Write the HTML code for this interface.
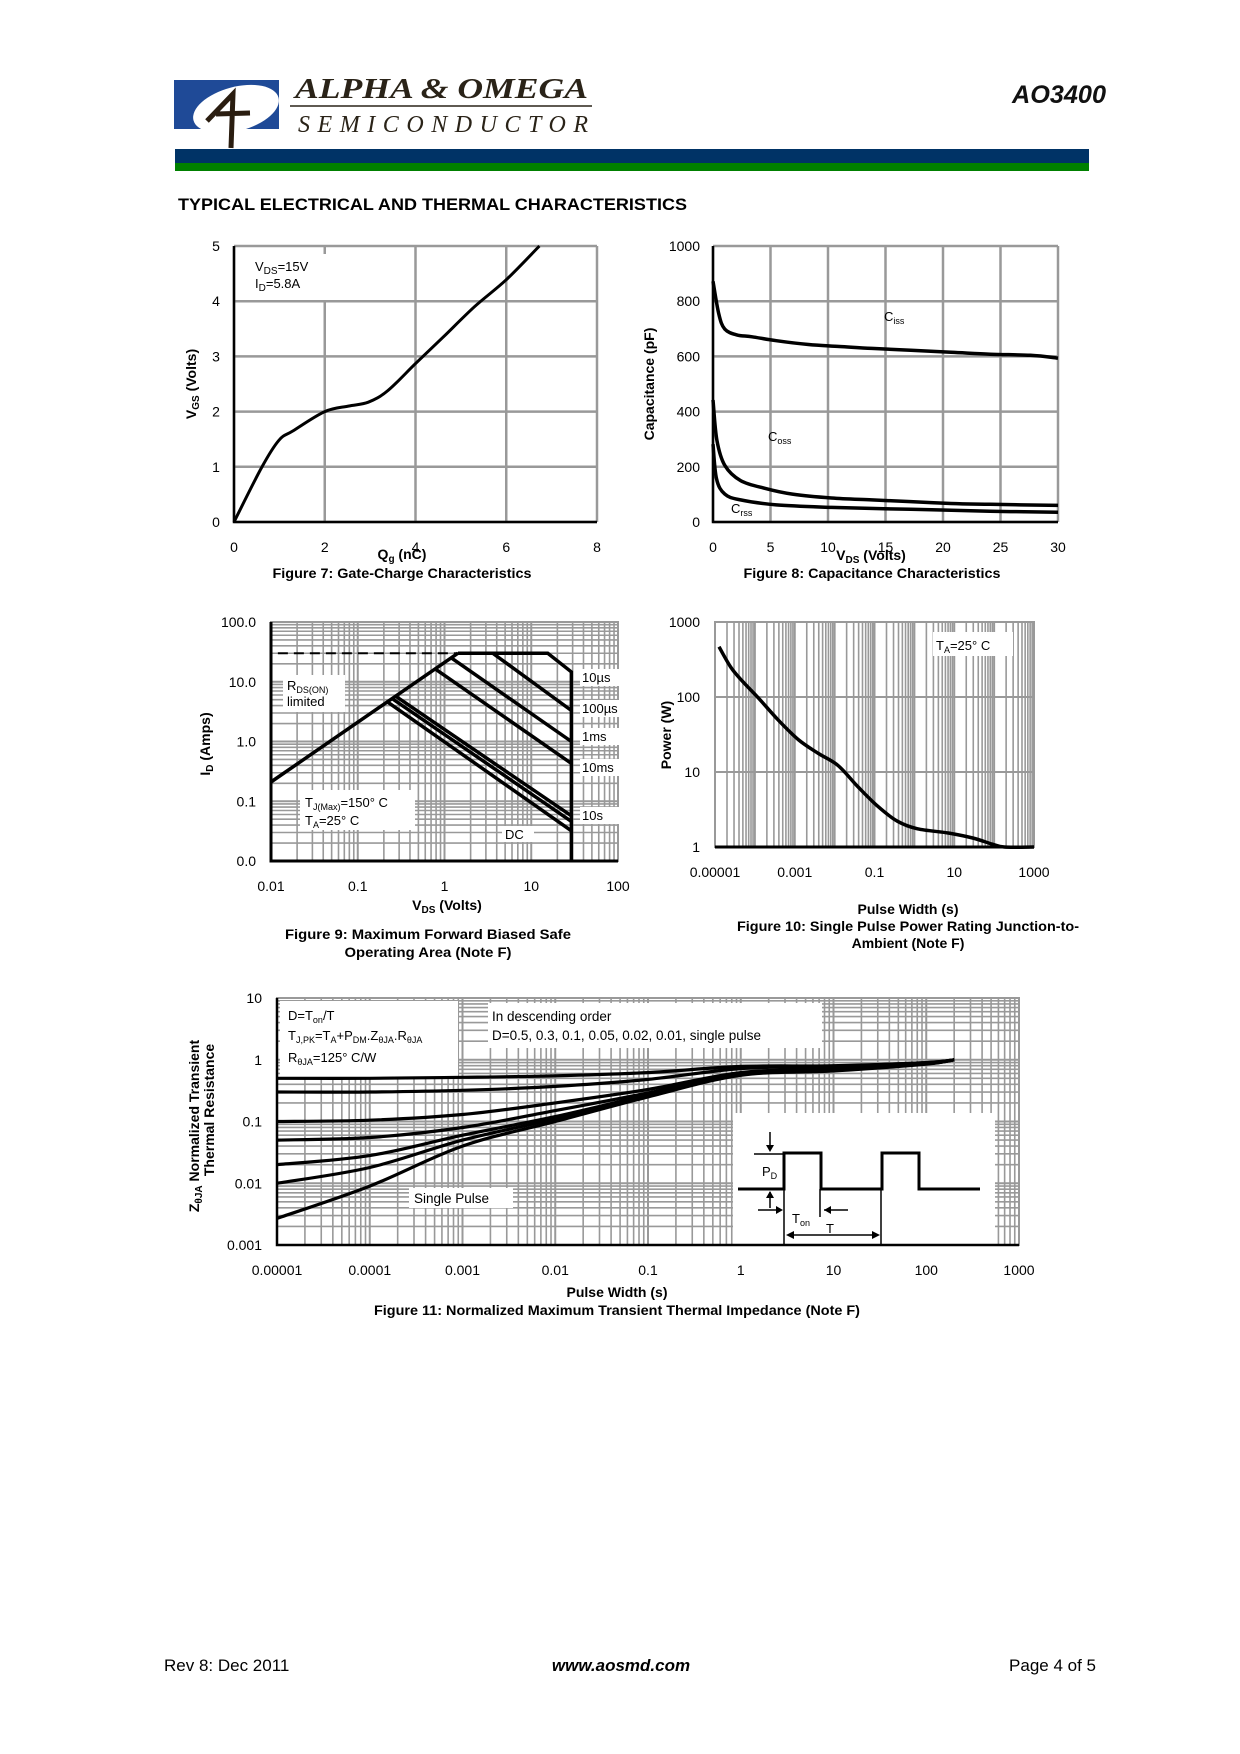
<!DOCTYPE html>
<html><head><meta charset="utf-8"><style>
html,body{margin:0;padding:0;background:#fff;}
svg{display:block;font-family:"Liberation Sans",Arial,sans-serif;}
</style></head>
<body>
<svg id="page" xmlns="http://www.w3.org/2000/svg" width="1240" height="1754" viewBox="0 0 1240 1754">
<rect x="0" y="0" width="1240" height="1754" fill="#fff"/>
<g>
  <rect x="174" y="80" width="105" height="49" fill="#1f4a97"/>
  <ellipse cx="236" cy="109" rx="44" ry="22" fill="#fff" transform="rotate(-15 236 109)"/>
  <path d="M207 121 L233 94 L231 148 M216 114 L250 113" stroke="#2a1d10" stroke-width="5" fill="none"/>
  <text x="295" y="98" font-family="Liberation Serif,serif" font-weight="bold" font-style="italic" font-size="29" fill="#2a2318" textLength="293" lengthAdjust="spacingAndGlyphs">ALPHA &amp; OMEGA</text>
  <line x1="290" y1="106" x2="592" y2="106" stroke="#2a2318" stroke-width="1.5"/>
  <text x="298" y="132" font-family="Liberation Serif,serif" font-style="italic" font-size="24" fill="#2a2318" textLength="290" lengthAdjust="spacing">SEMICONDUCTOR</text>
  <text x="1012" y="103" font-weight="bold" font-style="italic" font-size="25" fill="#111" textLength="94" lengthAdjust="spacingAndGlyphs">AO3400</text>
  <rect x="175" y="149" width="914" height="14" fill="#003366"/>
  <rect x="175" y="163" width="914" height="8" fill="#008000"/>
</g>
<text x="178" y="210" font-weight="bold" font-size="16.5" fill="#000" textLength="509" lengthAdjust="spacingAndGlyphs">TYPICAL ELECTRICAL AND THERMAL CHARACTERISTICS</text>
<g id="charts"></g>
<g>
  <text x="164" y="1671" font-size="17">Rev 8: Dec 2011</text>
  <text x="621" y="1671" font-size="17" font-weight="bold" font-style="italic" text-anchor="middle">www.aosmd.com</text>
  <text x="1096" y="1671" font-size="17" text-anchor="end">Page 4 of 5</text>
</g>
</svg>
<script>
// ---- Figure 7 data ----
const fig7Qg=[0,0.61,0.99,1.3,2.0,2.52,2.96,3.39,4.0,4.61,5.3,6.0,6.73];
const fig7Vgs=[0,0.99,1.48,1.65,2.0,2.1,2.17,2.38,2.87,3.35,3.9,4.39,5.0];
const fig7XTicks=[0,2,4,6,8];
const fig7YTicks=[0,1,2,3,4,5];
// ---- Figure 8 data ----
const fig8CissV=[0,0.5,1.03,2.07,3.4,5.5,8.3,11,13.8,17.2,20.7,24.1,27.6,30];
const fig8Ciss=[872,754,699,678,671,657,643,636,629,622,615,608,604,594];
const fig8CossV=[0,0.34,1.03,2.4,4.5,6.9,10.3,13.8,17.2,20.7,24.1,30];
const fig8Coss=[442,296,205,150,122,101,87,80,74,67,64,60];
const fig8CrssV=[0,0.3,1.03,2.4,5.5,10.3,17.2,24.1,30];
const fig8Crss=[282,157,101,80,62,53,46,39,35];
const fig8XTicks=[0,5,10,15,20,25,30];
const fig8YTicks=[0,200,400,600,800,1000];
// ---- Figure 9 data ----
const fig9XTicks=[0.01,0.1,1,10,100];
const fig9XTickLabels=["0.01","0.1","1","10","100"];
const fig9YTicks=[0.01,0.1,1,10,100];
const fig9YTickLabels=["0.0","0.1","1.0","10.0","100.0"];
const fig9Names=["10us","100us","1ms","10ms","10s","dc"];
const fig9V0=[3.6,1.2,0.8,0.28,0.25,0.22];
const fig9I0=[30,25,16,5.6,5.2,4.6];
const fig9V1=[29,29,29,29,29,29];
const fig9I1=[3.3,1.0,0.43,0.057,0.046,0.032];
const fig9RdsV=[0.01,1.43];
const fig9RdsI=[0.21,30];
const fig9LimitV=[1.43,15.5,29,29];
const fig9LimitI=[30,30,14.6,0.01];
// ---- Figure 10 data ----
const fig10T=[1.26e-5,2.5e-5,5e-5,1.25e-4,3.9e-4,1.23e-3,3.9e-3,0.012,0.038,0.12,0.38,1.2,7.4,29,91,180,1000];
const fig10P=[467,248,160,96,49,27,17.7,12.3,6.4,3.5,2.2,1.75,1.53,1.32,1.09,1.0,1.0];
const fig10XTicks=[1e-5,1e-3,0.1,10,1000];
const fig10XTickLabels=["0.00001","0.001","0.1","10","1000"];
const fig10YTicks=[1,10,100,1000];
const fig10YTickLabels=["1","10","100","1000"];
// ---- Figure 11 data ----
const fig11T=[1e-5,1e-4,1e-3,1e-2,0.1,1,10,100,200];
const fig11D05=[0.5,0.5,0.52,0.55,0.62,0.78,0.8,0.9,1.0];
const fig11D03=[0.3,0.3,0.32,0.37,0.48,0.72,0.78,0.9,1.0];
const fig11D01=[0.1,0.105,0.13,0.2,0.33,0.62,0.72,0.88,1.0];
const fig11D005=[0.05,0.055,0.08,0.15,0.29,0.6,0.7,0.87,1.0];
const fig11D002=[0.02,0.028,0.06,0.12,0.27,0.58,0.68,0.86,1.0];
const fig11D001=[0.01,0.018,0.05,0.11,0.26,0.57,0.67,0.86,1.0];
const fig11Single=[0.0027,0.009,0.04,0.1,0.25,0.56,0.66,0.85,1.0];
const fig11XTicks=[1e-5,1e-4,1e-3,1e-2,0.1,1,10,100,1000];
const fig11XTickLabels=["0.00001","0.0001","0.001","0.01","0.1","1","10","100","1000"];
const fig11YTicks=[0.001,0.01,0.1,1,10];
const fig11YTickLabels=["0.001","0.01","0.1","1","10"];

const NS='http://www.w3.org/2000/svg';
const root=document.getElementById('charts');
function mk(tag,parent){const e=document.createElementNS(NS,tag);(parent||root).appendChild(e);return e;}
function at(e,o){for(const k in o)e.setAttribute(k,o[k]);return e;}
function lin(d0,d1,p0,p1){return v=>p0+(v-d0)/(d1-d0)*(p1-p0);}
function lg(d0,d1,p0,p1){return v=>p0+(Math.log10(v)-Math.log10(d0))/(Math.log10(d1)-Math.log10(d0))*(p1-p0);}
function smooth(pts){let d='M'+pts[0][0].toFixed(1)+' '+pts[0][1].toFixed(1);
 for(let i=0;i<pts.length-1;i++){const p0=pts[i-1]||pts[i],p1=pts[i],p2=pts[i+1],p3=pts[i+2]||p2;
  const c1=[p1[0]+(p2[0]-p0[0])/6,p1[1]+(p2[1]-p0[1])/6],c2=[p2[0]-(p3[0]-p1[0])/6,p2[1]-(p3[1]-p1[1])/6];
  d+=' C'+c1[0].toFixed(1)+' '+c1[1].toFixed(1)+' '+c2[0].toFixed(1)+' '+c2[1].toFixed(1)+' '+p2[0].toFixed(1)+' '+p2[1].toFixed(1);}
 return d;}
function txt(g,x,y,s,opt){const t=mk('text',g);at(t,Object.assign({x:x,y:y,'font-size':14,fill:'#000'},opt||{}));t.innerHTML=s;return t;}
function whiteBox(g,x,y,w,h){const r=mk('rect',g);at(r,{x:x,y:y,width:w,height:h,fill:'#fff'});return r;}
function logGrid(g,xs,ys,L,R,T,B,xd,yd,col,minorX,minorY){
 for(let e=Math.log10(xd[0]);e<Math.log10(xd[1]);e++){for(let m=1;m<10;m++){if(m>1&&!minorX)continue;const x=xs(m*Math.pow(10,e));const l=mk('line',g);at(l,{x1:x,y1:T,x2:x,y2:B,stroke:col,'stroke-width':m==1?2:1.6});}}
 for(let e=Math.log10(yd[0]);e<Math.log10(yd[1]);e++){for(let m=1;m<10;m++){if(m>1&&!minorY)continue;const y=ys(m*Math.pow(10,e));const l=mk('line',g);at(l,{x1:L,y1:y,x2:R,y2:y,stroke:col,'stroke-width':m==1?2:1.6});}}
 const r=mk('rect',g);at(r,{x:L,y:T,width:R-L,height:B-T,fill:'none',stroke:col,'stroke-width':2});
}
function curve(g,xs,ys,X,Y,w){const p=mk('path',g);at(p,{d:smooth(X.map((v,i)=>[xs(v),ys(Y[i])])),fill:'none',stroke:'#000','stroke-width':w||3.5,'stroke-linejoin':'round'});return p;}

// ===== Figure 7 =====
(function(){
 const g=mk('g');
 
 
 const L=234,R=597,T=246,B=522;
 const xs=lin(0,8,L,R),ys=lin(0,5,B,T);
 fig7XTicks.forEach(v=>{const l=mk('line',g);at(l,{x1:xs(v),y1:T,x2:xs(v),y2:B,stroke:'#999','stroke-width':2.5});
  const t=txt(g,xs(v),552,v,{'text-anchor':'middle'});
  
  });
 fig7YTicks.forEach(v=>{const l=mk('line',g);at(l,{x1:L,y1:ys(v),x2:R,y2:ys(v),stroke:'#999','stroke-width':2.5});
  const t=txt(g,216,ys(v)+5,v,{'text-anchor':'middle'});
  
  });
 const ax=mk('path',g);at(ax,{d:`M${L} ${T} L${L} ${B} L${R} ${B}`,stroke:'#000','stroke-width':2.5,fill:'none'});
 const lb=whiteBox(g,242,254,100,46);
 
 
 txt(g,255,271,'V<tspan font-size="10" dy="3">DS</tspan><tspan dy="-3">=15V</tspan>',{'font-size':13});
 txt(g,255,288,'I<tspan font-size="10" dy="3">D</tspan><tspan dy="-3">=5.8A</tspan>',{'font-size':13});
 const c=curve(g,xs,ys,fig7Qg,fig7Vgs,3);
 
 
 const yl=txt(g,0,0,'V<tspan font-size="10" dy="3">GS</tspan><tspan dy="-3"> (Volts)</tspan>',{'font-weight':'bold','font-size':14,'text-anchor':'middle',transform:'translate(196 384) rotate(-90)'});
 
 
 const xl=txt(g,402,559,'Q<tspan font-size="10" dy="3">g</tspan><tspan dy="-3"> (nC)</tspan>',{'font-weight':'bold','text-anchor':'middle'});
 
 
 const cap=txt(g,402,578,'Figure 7: Gate-Charge Characteristics',{'font-weight':'bold','text-anchor':'middle',textLength:259,lengthAdjust:'spacingAndGlyphs'});
 
 
})();

// ===== Figure 8 =====
(function(){
 const g=mk('g');
 
 
 const L=713,R=1058,T=246,B=522;
 const xs=lin(0,30,L,R),ys=lin(0,1000,B,T);
 fig8XTicks.forEach(v=>{const l=mk('line',g);at(l,{x1:xs(v),y1:T,x2:xs(v),y2:B,stroke:'#999','stroke-width':2.5});
  const t=txt(g,xs(v),552,v,{'text-anchor':'middle'});
  
  });
 fig8YTicks.forEach(v=>{const l=mk('line',g);at(l,{x1:L,y1:ys(v),x2:R,y2:ys(v),stroke:'#999','stroke-width':2.5});
  const t=txt(g,700,ys(v)+5,v,{'text-anchor':'end'});
  
  });
 const ax=mk('path',g);at(ax,{d:`M${L} ${T} L${L} ${B} L${R} ${B}`,stroke:'#000','stroke-width':2.5,fill:'none'});
 const c1=curve(g,xs,ys,fig8CissV,fig8Ciss,3.5);
 
 
 const c2=curve(g,xs,ys,fig8CossV,fig8Coss,3.5);
 
 
 const c3=curve(g,xs,ys,fig8CrssV,fig8Crss,3.5);
 
 
 txt(g,884,321,'C<tspan font-size="9" dy="3">iss</tspan>',{'font-size':13});
 txt(g,768,441,'C<tspan font-size="9" dy="3">oss</tspan>',{'font-size':13});
 txt(g,731,513,'C<tspan font-size="9" dy="3">rss</tspan>',{'font-size':13});
 const yl=txt(g,0,0,'Capacitance (pF)',{'font-weight':'bold','font-size':14,'text-anchor':'middle',transform:'translate(654 384) rotate(-90)'});
 
 
 const xl=txt(g,871,560,'V<tspan font-size="10" dy="3">DS</tspan><tspan dy="-3"> (Volts)</tspan>',{'font-weight':'bold','text-anchor':'middle'});
 
 
 const cap=txt(g,872,578,'Figure 8: Capacitance Characteristics',{'font-weight':'bold','text-anchor':'middle',textLength:257,lengthAdjust:'spacingAndGlyphs'});
 
 
})();

// ===== Figure 9 =====
(function(){
 const g=mk('g');
 
 
 const L=271,R=618,T=622,B=861;
 const xs=lg(0.01,100,L,R),ys=lg(0.01,100,B,T);
 logGrid(g,xs,ys,L,R,T,B,[0.01,100],[0.01,100],'#999',true,true);
 fig9XTicks.forEach((v,i)=>{const t=txt(g,xs(v),891,fig9XTickLabels[i],{'text-anchor':'middle'});
  
  });
 fig9YTicks.forEach((v,i)=>{const t=txt(g,256,ys(v)+5,fig9YTickLabels[i],{'text-anchor':'end'});
  
  });
 const b1=whiteBox(g,283,675,62,37);
 
 
 txt(g,287,690,'R<tspan font-size="9" dy="3">DS(ON)</tspan>',{'font-size':13});
 txt(g,287,706,'limited',{'font-size':13});
 const b2=whiteBox(g,300,790,115,40);
 
 
 txt(g,305,807,'T<tspan font-size="9" dy="3">J(Max)</tspan><tspan dy="-3">=150° C</tspan>',{'font-size':13});
 txt(g,305,825,'T<tspan font-size="9" dy="3">A</tspan><tspan dy="-3">=25° C</tspan>',{'font-size':13});
 const ax=mk('path',g);at(ax,{d:`M${L} ${T} L${L} ${B} L${R} ${B}`,stroke:'#000','stroke-width':3,fill:'none'});
 const dash=mk('line',g);at(dash,{x1:xs(0.012),y1:ys(30),x2:xs(fig9RdsV[1]),y2:ys(30),stroke:'#000','stroke-width':2,'stroke-dasharray':'10,6'});
 
 
 const rds=mk('polyline',g);at(rds,{points:fig9RdsV.map((v,i)=>xs(v)+','+ys(fig9RdsI[i])).join(' '),fill:'none',stroke:'#000','stroke-width':3.5});
 
 
 const lim=mk('polyline',g);at(lim,{points:fig9LimitV.map((v,i)=>xs(v)+','+ys(fig9LimitI[i])).join(' '),fill:'none',stroke:'#000','stroke-width':3.5});
 
 
 fig9Names.forEach((n,i)=>{const l=mk('line',g);at(l,{x1:xs(fig9V0[i]),y1:ys(fig9I0[i]),x2:xs(fig9V1[i]),y2:ys(fig9I1[i]),stroke:'#000','stroke-width':3.5});
  
  });
 [['10µs',682],['100µs',713],['1ms',741],['10ms',772],['10s',820]].forEach(a=>{whiteBox(g,580,a[1]-13,40,17);const t=txt(g,582,a[1],a[0],{'font-size':13});
  
  });
 whiteBox(g,502,826,32,16);
 txt(g,505,839,'DC',{'font-size':13});
 const yl=txt(g,0,0,'I<tspan font-size="10" dy="3">D</tspan><tspan dy="-3"> (Amps)</tspan>',{'font-weight':'bold','text-anchor':'middle',transform:'translate(210 744) rotate(-90)'});
 
 
 const xl=txt(g,447,910,'V<tspan font-size="10" dy="3">DS</tspan><tspan dy="-3"> (Volts)</tspan>',{'font-weight':'bold','text-anchor':'middle'});
 
 
 const c1=txt(g,428,939,'Figure 9: Maximum Forward Biased Safe',{'font-weight':'bold','text-anchor':'middle',textLength:286,lengthAdjust:'spacingAndGlyphs'});
 
 
 txt(g,428,957,'Operating Area (Note F)',{'font-weight':'bold','text-anchor':'middle',textLength:167,lengthAdjust:'spacingAndGlyphs'});
})();

// ===== Figure 10 =====
(function(){
 const g=mk('g');
 
 
 const L=715,R=1034,T=622,B=847;
 const xs=lg(1e-5,1000,L,R),ys=lg(1,1000,B,T);
 logGrid(g,xs,ys,L,R,T,B,[1e-5,1000],[1,1000],'#999',true,false);
 fig10XTicks.forEach((v,i)=>{const t=txt(g,xs(v),877,fig10XTickLabels[i],{'text-anchor':'middle'});
  
  });
 fig10YTicks.forEach((v,i)=>{const t=txt(g,700,ys(v)+5,fig10YTickLabels[i],{'text-anchor':'end'});
  
  });
 const bx=whiteBox(g,933,632,80,24);
 
 
 txt(g,936,650,'T<tspan font-size="9" dy="3">A</tspan><tspan dy="-3">=25° C</tspan>',{'font-size':13});
 const ax=mk('line',g);at(ax,{x1:L,y1:B,x2:R,y2:B,stroke:'#000','stroke-width':3});
 const c=curve(g,xs,ys,fig10T,fig10P,3.5);
 
 
 const yl=txt(g,0,0,'Power (W)',{'font-weight':'bold','text-anchor':'middle',transform:'translate(671 735) rotate(-90)'});
 
 
 const xl=txt(g,908,914,'Pulse Width (s)',{'font-weight':'bold','text-anchor':'middle'});
 
 
 const c1=txt(g,908,931,'Figure 10: Single Pulse Power Rating Junction-to-',{'font-weight':'bold','text-anchor':'middle',textLength:342,lengthAdjust:'spacingAndGlyphs'});
 
 
 txt(g,908,948,'Ambient (Note F)',{'font-weight':'bold','text-anchor':'middle'});
})();

// ===== Figure 11 =====
(function(){
 const g=mk('g');
 
 
 const L=277,R=1019,T=998,B=1245;
 const xs=lg(1e-5,1000,L,R),ys=lg(0.001,10,B,T);
 logGrid(g,xs,ys,L,R,T,B,[1e-5,1000],[0.001,10],'#999',true,true);
 fig11XTicks.forEach((v,i)=>{const t=txt(g,xs(v),1275,fig11XTickLabels[i],{'text-anchor':'middle'});
  
  });
 fig11YTicks.forEach((v,i)=>{const t=txt(g,262,ys(v)+5,fig11YTickLabels[i],{'text-anchor':'end'});
  
  });
 const b1=whiteBox(g,280,1001,178,76);
 
 
 txt(g,288,1020,'D=T<tspan font-size="9" dy="3">on</tspan><tspan dy="-3">/T</tspan>',{'font-size':13});
 txt(g,288,1040,'T<tspan font-size="9" dy="3">J,PK</tspan><tspan dy="-3">=T</tspan><tspan font-size="9" dy="3">A</tspan><tspan dy="-3">+P</tspan><tspan font-size="9" dy="3">DM</tspan><tspan dy="-3">.Z</tspan><tspan font-size="9" dy="3">θJA</tspan><tspan dy="-3">.R</tspan><tspan font-size="9" dy="3">θJA</tspan>',{'font-size':13});
 txt(g,288,1062,'R<tspan font-size="9" dy="3">θJA</tspan><tspan dy="-3">=125° C/W</tspan>',{'font-size':13});
 const b2=whiteBox(g,488,1003,334,45);
 
 
 txt(g,492,1021,'In descending order',{'font-size':13.5});
 txt(g,492,1040,'D=0.5, 0.3, 0.1, 0.05, 0.02, 0.01, single pulse',{'font-size':13.5});
 const b3=whiteBox(g,409,1188,104,20);
 
 
 txt(g,414,1203,'Single Pulse',{'font-size':13.5});
 // inset
 const ib=whiteBox(g,733,1113,262,131);
 
 
 const pl=mk('polyline',g);at(pl,{points:'738,1189 784,1189 784,1153 821,1153 821,1189 882,1189 882,1153 919,1153 919,1189 980,1189',fill:'none',stroke:'#000','stroke-width':3});
 
 
 const ln=mk('path',g);at(ln,{d:'M754 1154 L784 1154 M784 1189 L784 1245 M820 1189 L820 1217 M881 1189 L881 1245 M770 1132 L770 1150 M770 1192 L770 1208 M758 1210 L781 1210 M848 1210 L824 1210 M788 1235 L878 1235',stroke:'#000','stroke-width':1.5,fill:'none'});
 
 
 const ah=mk('path',g);at(ah,{d:'M766 1145 L770 1152 L774 1145 Z M766 1198 L770 1191 L774 1198 Z M776 1206 L783 1210 L776 1214 Z M831 1206 L824 1210 L831 1214 Z M786 1235 L794 1231 L794 1239 Z M880 1235 L872 1231 L872 1239 Z',fill:'#000'});
 
 
 txt(g,762,1176,'P<tspan font-size="9" dy="3">D</tspan>',{'font-size':13});
 txt(g,792,1223,'T<tspan font-size="9" dy="3">on</tspan>',{'font-size':13});
 txt(g,826,1233,'T',{'font-size':13});
 const ax=mk('path',g);at(ax,{d:`M${L} ${T} L${L} ${B} L${R} ${B}`,stroke:'#000','stroke-width':2.5,fill:'none'});
 [['d-0.5',fig11D05],['d-0.3',fig11D03],['d-0.1',fig11D01],['d-0.05',fig11D005],['d-0.02',fig11D002],['d-0.01',fig11D001],['single-pulse',fig11Single]].forEach(a=>{
  const c=curve(g,xs,ys,fig11T,a[1],3.2);
  
  });
 const yl=mk('text',g);at(yl,{'font-weight':'bold','font-size':14,'text-anchor':'middle',transform:'translate(199 1126) rotate(-90)'});
 yl.innerHTML='Z<tspan font-size="10" dy="3">θJA</tspan><tspan dy="-3"> Normalized Transient</tspan>';
 
 
 const yl2=txt(g,0,0,'Thermal Resistance',{'font-weight':'bold','text-anchor':'middle',transform:'translate(214 1110) rotate(-90)'});
 
 
 const xl=txt(g,617,1297,'Pulse Width (s)',{'font-weight':'bold','text-anchor':'middle'});
 
 
 const cap=txt(g,617,1315,'Figure 11: Normalized Maximum Transient Thermal Impedance (Note F)',{'font-weight':'bold','text-anchor':'middle',textLength:486,lengthAdjust:'spacingAndGlyphs'});
 
 
})();
</script>
</body></html>
